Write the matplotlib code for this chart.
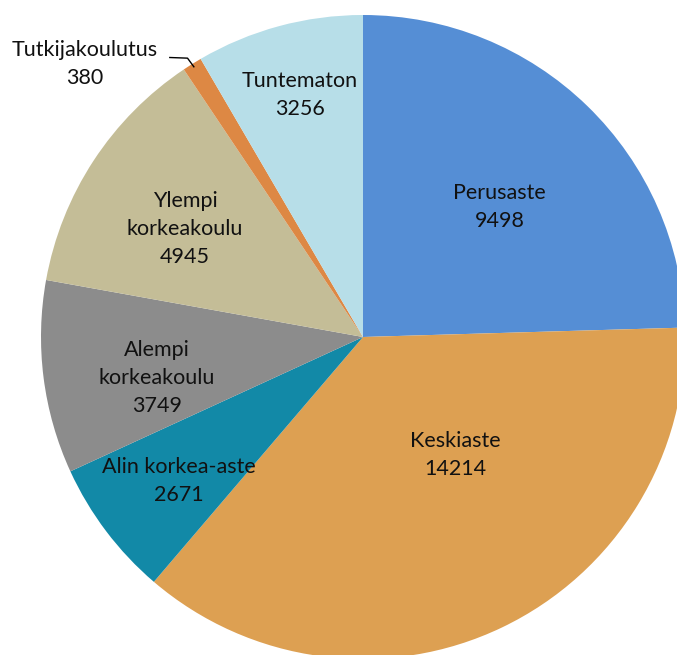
import numpy as np
import matplotlib.pyplot as plt

labels = ["Perusaste", "Keskiaste", "Alin korkea-aste", "Alempi\nkorkeakoulu",
          "Ylempi\nkorkeakoulu", "Tutkijakoulutus", "Tuntematon"]
values = [9498, 14214, 2671, 3749, 4945, 380, 3256]
colors = ["#558ED5", "#DDA052", "#1289A7", "#8C8C8C", "#C4BD97", "#DD8844", "#B7DEE8"]

# label centres in pie-radius units (layout only)
label_xy = [(0.425, 0.404), (0.286, -0.366), (-0.571, -0.447), (-0.640, -0.127),
            (-0.553, 0.335), (-0.863, 0.848), (-0.196, 0.752)]

plt.rcParams['font.family'] = ['Lato', 'DejaVu Sans']

fig = plt.figure(figsize=(6.77, 6.55), dpi=100)
ax = fig.add_axes([0, 0, 1, 1])

wedges, _ = ax.pie(values, colors=colors, startangle=90, counterclock=False,
                   radius=1.0, center=(0, 0))

for w, lab, val, (tx, ty) in zip(wedges, labels, values, label_xy):
    txt = lab + "\n" + str(val)
    ax.text(tx, ty, txt, ha="center", va="center", fontsize=15.5,
            color="#111111", linespacing=1.5)
    if val < 1000:
        # small slice: leader line to the wedge edge
        mid = np.deg2rad((w.theta1 + w.theta2) / 2)
        ax.plot([-0.60, -0.545, np.cos(mid) * 0.99], [0.868, 0.866, np.sin(mid) * 0.99],
                color="black", lw=1)

ax.set_aspect("equal")
ax.set_xlim(-363 / 322, (677 - 363) / 322)
ax.set_ylim(-(655 - 337) / 322, 337 / 322)
ax.axis("off")

fig.savefig("out.png", dpi=100)
